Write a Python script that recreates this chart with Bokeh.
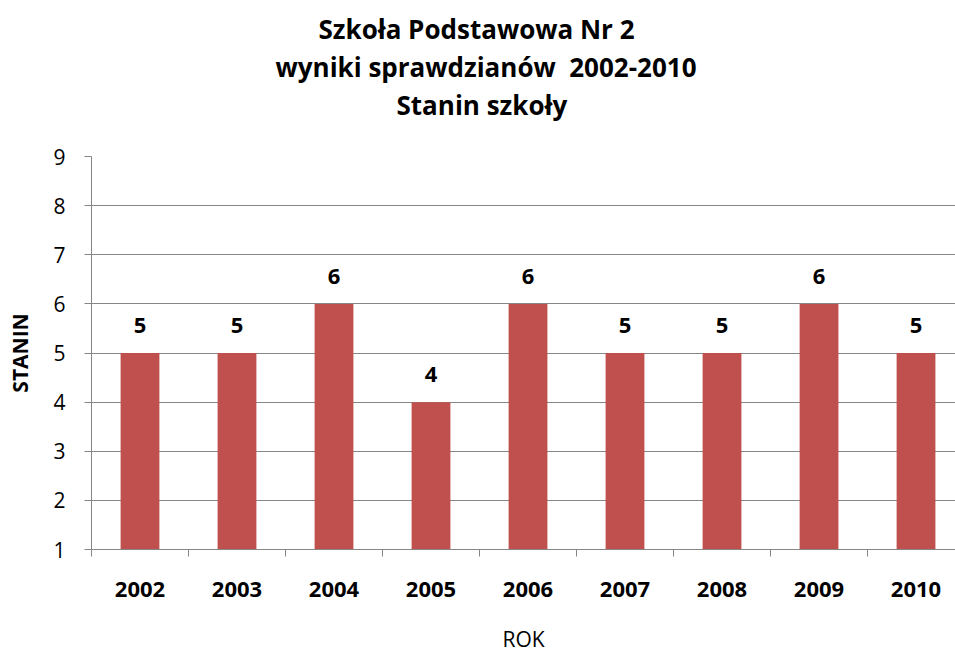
from bokeh.plotting import figure
from bokeh.models import ColumnDataSource, FixedTicker, Title, LabelSet
from bokeh.core.properties import value
from bokeh.embed import file_html
from bokeh.resources import INLINE

years = ["2002", "2003", "2004", "2005", "2006", "2007", "2008", "2009", "2010"]
stanin = [5, 5, 6, 4, 6, 5, 5, 6, 5]
y_ticks = [1, 2, 3, 4, 5, 6, 7, 8, 9]
title_lines = ["Szkoła Podstawowa Nr 2", "wyniki sprawdzianów\u00a0 2002-2010", "Stanin szkoły"]
title_offsets = [227, 184, 305]

FONT = "Open Sans"
GRAY = "#868686"
BAR = "#C0504D"

xs = list(range(len(years)))
src = ColumnDataSource(dict(x=xs, top=stanin, bottom=[1] * len(xs), lab=[str(v) for v in stanin]))

p = figure(width=955, height=655, output_backend="svg", toolbar_location=None,
           x_range=(-0.5, 8.407), y_range=(1, 9),
           min_border_left=91, min_border_right=0, min_border_bottom=0, min_border_top=0)
p.title = None

# spacer between the title block and the plot frame
p.add_layout(Title(text=" ", text_font=FONT, text_font_size="1px", standoff=31), "above")
for t, off in reversed(list(zip(title_lines, title_offsets))):
    p.add_layout(Title(text=t, align="left", offset=off, text_font=FONT, text_font_size="26px",
                       text_font_style="bold", text_color="black", standoff=0), "above")
# small spacer at the very top
p.add_layout(Title(text=" ", text_font=FONT, text_font_size="1px", standoff=5), "above")

p.vbar(x="x", top="top", bottom="bottom", width=0.4, source=src, color=BAR, line_color=None)
labels = LabelSet(x="x", y="top", text="lab", source=src, text_align="center",
                  text_baseline="alphabetic", y_offset=20, text_font=value(FONT),
                  text_font_size="22px", text_font_style="bold", text_color="black")
p.add_layout(labels)

p.outline_line_color = None
p.background_fill_color = "white"
p.border_fill_color = "white"

# y axis
p.yaxis.ticker = FixedTicker(ticks=y_ticks)
p.yaxis.axis_line_color = GRAY
p.yaxis.major_tick_line_color = GRAY
p.yaxis.major_tick_out = 7
p.yaxis.major_tick_in = 0
p.yaxis.minor_tick_line_color = None
p.yaxis.major_label_text_font = FONT
p.yaxis.major_label_text_font_size = "21px"
p.yaxis.major_label_text_color = "black"
p.yaxis.major_label_standoff = 19
p.yaxis.axis_label = "STANIN"
p.yaxis.axis_label_text_font = FONT
p.yaxis.axis_label_text_font_size = "21px"
p.yaxis.axis_label_text_font_style = "bold"
p.yaxis.axis_label_text_color = "black"
p.yaxis.axis_label_standoff = 16

# x axis
centers = xs
bounds = [i - 0.5 for i in range(len(years) + 1)]
p.xaxis.ticker = FixedTicker(ticks=centers, minor_ticks=bounds)
p.xaxis.major_label_overrides = {i: y for i, y in enumerate(years)}
p.xaxis.axis_line_color = GRAY
p.xaxis.major_tick_line_color = None
p.xaxis.major_tick_out = 7
p.xaxis.major_tick_in = 0
p.xaxis.minor_tick_line_color = GRAY
p.xaxis.minor_tick_out = 7
p.xaxis.minor_tick_in = 0
p.xaxis.major_label_text_font = FONT
p.xaxis.major_label_text_font_size = "22px"
p.xaxis.major_label_text_font_style = "bold"
p.xaxis.major_label_text_color = "black"
p.xaxis.major_label_standoff = 25
p.xaxis.axis_label = "ROK"
p.xaxis.axis_label_text_font = FONT
p.xaxis.axis_label_text_font_size = "21px"
p.xaxis.axis_label_text_font_style = "normal"
p.xaxis.axis_label_text_color = "black"
p.xaxis.axis_label_standoff = 25

p.xgrid.grid_line_color = None
p.ygrid.ticker = FixedTicker(ticks=y_ticks)
p.ygrid.grid_line_color = GRAY
p.ygrid.grid_line_width = 1

open("out.html", "w").write(file_html(p, INLINE))
